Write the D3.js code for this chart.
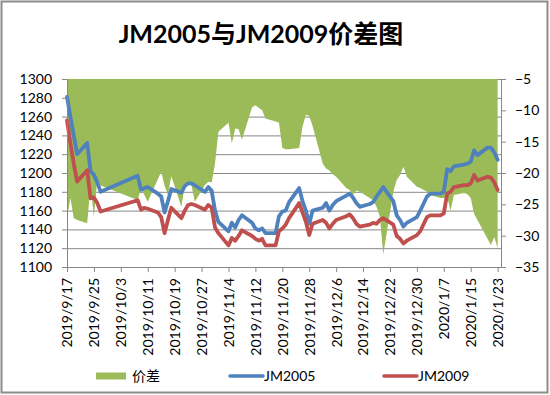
<!DOCTYPE html>
<html>
<head>
<meta charset="utf-8">
<script src="https://cdn.jsdelivr.net/npm/d3@7"></script>
<style>
  body { margin: 0; background: #fff; }
  text { font-family: Lato, "Noto Sans CJK SC", sans-serif; }
</style>
</head>
<body>
<div id="chart"></div>
<script>
// trading days (9/30 absent in source, line jumps straight over holiday)
const dates = [
  "2019/9/17","2019/9/18","2019/9/19","2019/9/20","2019/9/23","2019/9/24","2019/9/25","2019/9/26","2019/9/27",
  "2019/10/8","2019/10/9","2019/10/10","2019/10/11","2019/10/14","2019/10/15","2019/10/16","2019/10/17","2019/10/18",
  "2019/10/21","2019/10/22","2019/10/23","2019/10/24","2019/10/25","2019/10/28","2019/10/29","2019/10/30","2019/10/31",
  "2019/11/1","2019/11/4","2019/11/5","2019/11/6","2019/11/7","2019/11/8","2019/11/11","2019/11/12","2019/11/13",
  "2019/11/14","2019/11/15","2019/11/18","2019/11/19","2019/11/20","2019/11/21","2019/11/22","2019/11/25","2019/11/26",
  "2019/11/27","2019/11/28","2019/11/29",
  "2019/12/2","2019/12/3","2019/12/4","2019/12/5","2019/12/6","2019/12/9","2019/12/10","2019/12/11","2019/12/12",
  "2019/12/13","2019/12/16","2019/12/17","2019/12/18","2019/12/19","2019/12/20","2019/12/23","2019/12/24","2019/12/25",
  "2019/12/26","2019/12/27","2019/12/30","2019/12/31",
  "2020/1/2","2020/1/3","2020/1/6","2020/1/7","2020/1/8","2020/1/9","2020/1/10","2020/1/13","2020/1/14",
  "2020/1/15","2020/1/16","2020/1/17","2020/1/20","2020/1/21","2020/1/22","2020/1/23"
];
const jm2005 = [
  1281,1260,1240,1220,1232,1202,1198,1190,1180,
  1197,1182,1184,1185,1178,1175,1158,1170,1183,
  1179,1186,1189,1189,1187,1180,1185,1181,1160,
  1148,1138,1147,1142,1150,1155,1147,1141,1139,
  1141,1136,1136,1154,1159,1160,1169,1184,1170,
  1160,1146,1160,
  1163,1168,1160,1166,1170,1176,1178,1174,1168,
  1164,1167,1169,1175,1180,1185,1170,1155,1150,
  1143,1147,1153,1160,
  1175,1178,1178,1180,1204,1202,1207,1209,1210,
  1212,1224,1219,1227,1227,1222,1214
];
const jm2009 = [
  1256,1232,1210,1191,1203,1173,1174,1168,1159,
  1171,1161,1163,1162,1158,1153,1136,1150,1163,
  1152,1160,1166,1167,1166,1161,1166,1163,1142,
  1136,1123,1131,1128,1133,1139,1133,1130,1128,
  1130,1123,1123,1138,1141,1145,1152,1168,1158,
  1148,1134,1146,
  1150,1147,1141,1146,1150,1154,1156,1152,1146,
  1143,1145,1147,1146,1150,1152,1145,1133,1130,
  1125,1128,1134,1138,
  1153,1155,1155,1157,1178,1180,1185,1187,1187,
  1189,1198,1192,1196,1195,1190,1182
];
const spread = [
  -27.2,-24,-27.2,-27.5,-28,-22,-27,-21,-22,
  -24.3,-22.5,-23.5,-24.6,-21,-19.8,-22,-23.5,-20.5,
  -25.4,-21.9,-21.5,-22,-24.6,-21.9,-21.4,-21.5,-18.5,
  -13.4,-12,-15.3,-12.9,-13,-14.7,-9.5,-9.2,-9.6,
  -10,-11.3,-11.8,-12,-16,-16.2,-16.2,-16,-12.6,
  -10.7,-10.9,-12.5,
  -18.5,-19.3,-19.6,-20.2,-20.6,-22.4,-22.7,-23.5,-22.8,
  -23,-24,-24.4,-25.4,-27,-33,-23,-21.1,-20.3,
  -19,-20.6,-22.2,-22.4,
  -23,-23.5,-24,-24,-23.8,-26,-23.5,-23.2,-23.4,
  -24,-26.5,-27.5,-30.5,-31.5,-30.2,-32
];
const xTickLabels = [
  "2019/9/17","2019/9/25","2019/10/3","2019/10/11","2019/10/19","2019/10/27","2019/11/4","2019/11/12",
  "2019/11/20","2019/11/28","2019/12/6","2019/12/14","2019/12/22","2019/12/30","2020/1/7","2020/1/15","2020/1/23"
];
const leftTicks = [1100,1120,1140,1160,1180,1200,1220,1240,1260,1280,1300];
const rightTicks = [-35,-30,-25,-20,-15,-10,-5];
const legendItems = ["价差","JM2005","JM2009"];

const dimensions = {
  width: 550,
  height: 395,
  plot: { left: 67, right: 501, top: 79, bottom: 267 },
};
const colors = { spread: "#9BBB59", jm2005: "#4F81BD", jm2009: "#C0504D", grid: "#878787" };

const parseDate = d3.timeParse("%Y/%m/%d");
const data = dates.map((d, i) => ({
  date: parseDate(d),
  a: jm2005[i],
  b: jm2009[i],
  s: spread[i],
}));

const svg = d3
  .select("#chart")
  .append("svg")
  .attr("width", dimensions.width)
  .attr("height", dimensions.height);

// outer frame
svg
  .append("rect")
  .attr("x", 1.5)
  .attr("y", 1.5)
  .attr("width", 546)
  .attr("height", 391)
  .attr("fill", "#fff")
  .attr("stroke", "#8c8c8c")
  .attr("stroke-width", 2);

const p = dimensions.plot;
const xScale = d3
  .scaleTime()
  .domain([parseDate("2019/9/17"), parseDate("2020/1/24")])
  .range([p.left, p.right]);
const yLeft = d3.scaleLinear().domain([1100, 1300]).range([p.bottom, p.top]);
const yRight = d3.scaleLinear().domain([-35, -5]).range([p.bottom, p.top]);

// grid
svg
  .append("g")
  .attr("transform", `translate(${p.left},0)`)
  .call(d3.axisLeft(yLeft).tickValues(leftTicks).tickSize(-(p.right - p.left)).tickFormat(""))
  .call((g) => g.select(".domain").remove())
  .call((g) => g.selectAll("line").attr("stroke", colors.grid).attr("stroke-width", 1));

// spread area, filled up to the top of the axis
const area = d3
  .area()
  .x((d) => xScale(d.date))
  .y0(yRight(-5))
  .y1((d) => yRight(d.s));
svg.append("path").datum(data).attr("d", area).attr("fill", colors.spread);

// lines
const lineA = d3.line().x((d) => xScale(d.date)).y((d) => yLeft(d.a));
const lineB = d3.line().x((d) => xScale(d.date)).y((d) => yLeft(d.b));
[
  [lineA, colors.jm2005],
  [lineB, colors.jm2009],
].forEach(([gen, c]) => {
  svg
    .append("path")
    .datum(data)
    .attr("d", gen)
    .attr("fill", "none")
    .attr("stroke", c)
    .attr("stroke-width", 3.8)
    .attr("stroke-linejoin", "round")
    .attr("stroke-linecap", "round");
});

// axes
const styleAxis = (g) => {
  g.select(".domain").attr("stroke", colors.grid);
  g.selectAll(".tick line").attr("stroke", colors.grid);
  g.selectAll("text").attr("fill", "#000").style("font-size", "14px");
};

svg
  .append("g")
  .attr("transform", `translate(${p.left},0)`)
  .call(
    d3
      .axisLeft(yLeft)
      .tickValues(leftTicks)
      .tickFormat(d3.format("d"))
      .tickSize(5)
      .tickSizeOuter(0)
      .tickPadding(10)
  )
  .call(styleAxis);

svg
  .append("g")
  .attr("transform", `translate(${p.right},0)`)
  .call(
    d3
      .axisRight(yRight)
      .tickValues(rightTicks)
      .tickFormat(d3.format("d"))
      .tickSize(5)
      .tickSizeOuter(0)
      .tickPadding(9)
  )
  .call(styleAxis);

const xAxisGroup = svg
  .append("g")
  .attr("transform", `translate(0,${p.bottom})`)
  .call(
    d3
      .axisBottom(xScale)
      .tickValues(xTickLabels.map(parseDate))
      .tickFormat((d, i) => xTickLabels[i])
      .tickSize(5)
      .tickSizeOuter(0)
  )
  .call(styleAxis);

xAxisGroup
  .selectAll("text")
  .attr("transform", "rotate(-90)")
  .attr("text-anchor", "end")
  .attr("x", -11)
  .attr("y", 0)
  .attr("dy", "0.35em");

// title
svg
  .append("text")
  .attr("x", 261)
  .attr("y", 43)
  .attr("text-anchor", "middle")
  .style("font-size", "25px")
  .style("font-weight", "bold")
  .text("JM2005与JM2009价差图");

// legend
const legend = svg.append("g").attr("transform", "translate(0,376)");
legend
  .append("rect")
  .attr("x", 96)
  .attr("y", -3.5)
  .attr("width", 30)
  .attr("height", 7)
  .attr("fill", colors.spread);
legend.append("text").attr("x", 132).attr("y", 0).attr("dy", "0.35em").style("font-size", "14px").text(legendItems[0]);

[
  [230, colors.jm2005, legendItems[1]],
  [384, colors.jm2009, legendItems[2]],
].forEach(([lx, c, label]) => {
  legend
    .append("line")
    .attr("x1", lx)
    .attr("x2", lx + 33)
    .attr("y1", 0)
    .attr("y2", 0)
    .attr("stroke", c)
    .attr("stroke-width", 3.5)
    .attr("stroke-linecap", "round");
  legend
    .append("text")
    .attr("x", lx + 34)
    .attr("y", 0)
    .attr("dy", "0.35em")
    .style("font-size", "14px")
    .text(label);
});
</script>
</body>
</html>
